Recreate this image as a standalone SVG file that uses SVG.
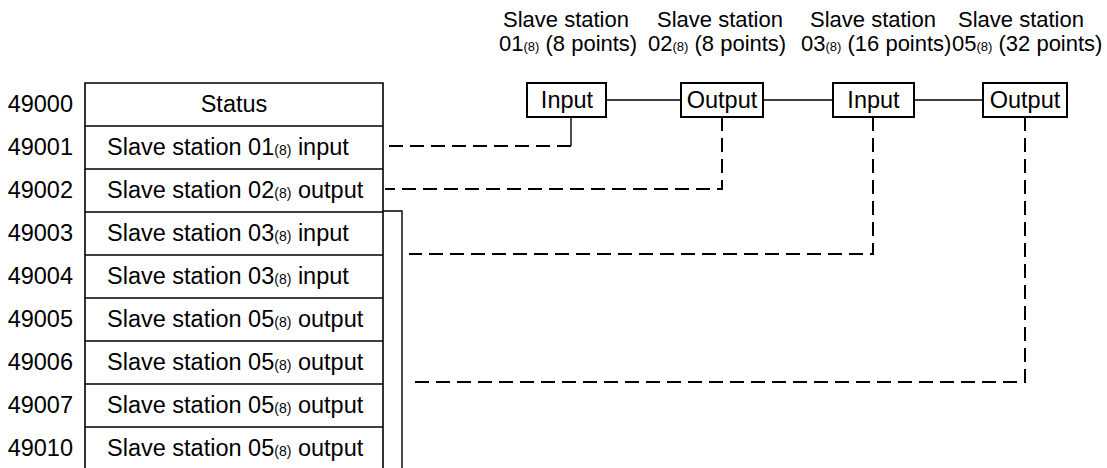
<svg xmlns="http://www.w3.org/2000/svg" width="1107" height="468" viewBox="0 0 1107 468">
  <style>
    text { font-family: "Liberation Sans", Arial, Helvetica, sans-serif; fill: #000; }
    .hdr { font-size: 22px; }
    .lbl { font-size: 23.5px; }
    .addr { font-size: 23.5px; text-anchor: end; }
    .sub { font-size: 13px; }
    .rsub { font-size: 14px; }
    .cell { fill: #fff; stroke: #000; stroke-width: 1.6; }
    .box { fill: #fff; stroke: #000; stroke-width: 2; }
    .solid { fill: none; stroke: #000; stroke-width: 1.4; }
    .dash { fill: none; stroke: #000; stroke-width: 2; stroke-dasharray: 14 7; }
  </style>
  <rect width="1107" height="468" fill="#fff"/>

  <!-- station headings -->
  <g id="headings" class="hdr">
    <text x="503" y="27">Slave station</text>
    <text x="499" y="51">01<tspan class="sub">(8)</tspan> (8 points)</text>
    <text x="657" y="27">Slave station</text>
    <text x="648" y="51">02<tspan class="sub">(8)</tspan> (8 points)</text>
    <text x="810" y="27">Slave station</text>
    <text x="801" y="51">03<tspan class="sub">(8)</tspan> (16 points)</text>
    <text x="958" y="27">Slave station</text>
    <text x="952" y="51">05<tspan class="sub">(8)</tspan> (32 points)</text>
  </g>

  <!-- link table -->
  <g id="table">
    <path class="cell" d="M85,468 V83 H383 V468"/>
    <path class="solid" stroke-width="1.6" d="M85,126 H383 M85,169 H383 M85,212 H383 M85,255 H383 M85,298 H383 M85,341 H383 M85,384 H383 M85,427 H383"/>
  </g>
  <g id="row-49000"><text class="addr" x="73" y="112">49000</text><text class="lbl" x="234" y="112" text-anchor="middle">Status</text></g>
  <g id="row-49001"><text class="addr" x="73" y="155">49001</text><text class="lbl" x="107" y="155">Slave station 01<tspan class="rsub">(8)</tspan> input</text></g>
  <g id="row-49002"><text class="addr" x="73" y="198">49002</text><text class="lbl" x="107" y="198">Slave station 02<tspan class="rsub">(8)</tspan> output</text></g>
  <g id="row-49003"><text class="addr" x="73" y="241">49003</text><text class="lbl" x="107" y="241">Slave station 03<tspan class="rsub">(8)</tspan> input</text></g>
  <g id="row-49004"><text class="addr" x="73" y="284">49004</text><text class="lbl" x="107" y="284">Slave station 03<tspan class="rsub">(8)</tspan> input</text></g>
  <g id="row-49005"><text class="addr" x="73" y="327">49005</text><text class="lbl" x="107" y="327">Slave station 05<tspan class="rsub">(8)</tspan> output</text></g>
  <g id="row-49006"><text class="addr" x="73" y="370">49006</text><text class="lbl" x="107" y="370">Slave station 05<tspan class="rsub">(8)</tspan> output</text></g>
  <g id="row-49007"><text class="addr" x="73" y="413">49007</text><text class="lbl" x="107" y="413">Slave station 05<tspan class="rsub">(8)</tspan> output</text></g>
  <g id="row-49010"><text class="addr" x="73" y="456">49010</text><text class="lbl" x="107" y="456">Slave station 05<tspan class="rsub">(8)</tspan> output</text></g>

  <!-- slave stations -->
  <g id="st01"><rect class="box" x="527" y="83" width="79" height="34"/><text class="lbl" x="567" y="108" text-anchor="middle">Input</text></g>
  <g id="st02"><rect class="box" x="681" y="83" width="82" height="34"/><text class="lbl" x="722" y="108" text-anchor="middle">Output</text></g>
  <g id="st03"><rect class="box" x="833" y="83" width="81" height="34"/><text class="lbl" x="873.5" y="108" text-anchor="middle">Input</text></g>
  <g id="st05"><rect class="box" x="983" y="83" width="84" height="34"/><text class="lbl" x="1025" y="108" text-anchor="middle">Output</text></g>

  <!-- connectors -->
  <g id="connectors">
    <path class="solid" d="M606,100 H681 M914,100 H983"/>
    <path class="solid" stroke-width="1.1" d="M763,100 H833"/>
    <path class="solid" d="M571,117 V146"/>
    <path class="dash" d="M571,146 H385"/>
    <path class="dash" d="M722,117 V189 H385"/>
    <path class="dash" stroke-width="1.5" d="M873,117 V254 H409"/>
    <path class="dash" d="M1025,117 V382 H413"/>
    <path class="solid" stroke-width="2" d="M383,211 H402 V468"/>
  </g>
</svg>
